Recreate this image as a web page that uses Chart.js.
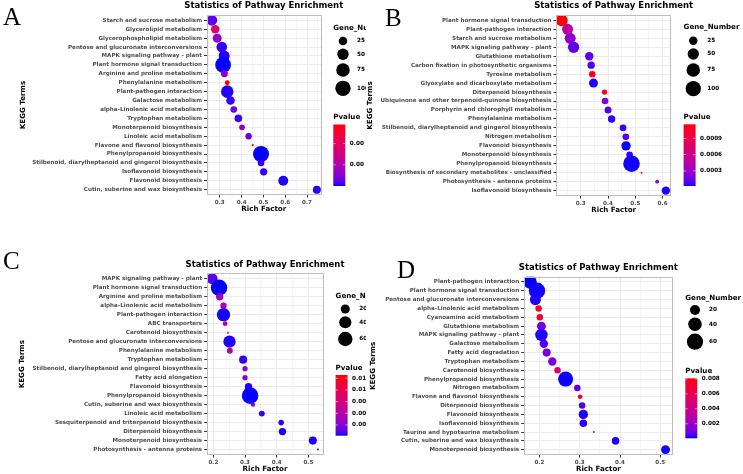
<!DOCTYPE html>
<html><head><meta charset="utf-8">
<script src="https://cdn.jsdelivr.net/npm/chart.js@4.4.1/dist/chart.umd.min.js"></script>
<style>
html,body{margin:0;padding:0;background:#fff;}
body{width:743px;height:474px;position:relative;overflow:hidden;}
canvas{position:absolute;}
.letter{position:absolute;font-family:"Liberation Serif","DejaVu Serif",serif;font-size:25px;line-height:25px;color:#000;}
</style></head><body>
<canvas id="cA" width="366" height="235" style="left:0;top:0"></canvas>
<canvas id="cB" width="379" height="235" style="left:364px;top:0"></canvas>
<canvas id="cC" width="366" height="239" style="left:0;top:235px"></canvas>
<canvas id="cD" width="379" height="239" style="left:364px;top:235px"></canvas>
<div class="letter" style="left:3px;top:4px">A</div>
<div class="letter" style="left:385px;top:5px">B</div>
<div class="letter" style="left:3px;top:248px">C</div>
<div class="letter" style="left:397px;top:257px">D</div>
<script>
// ---------------- DATA ----------------
const termsA = ["Starch and sucrose metabolism","Glycerolipid metabolism","Glycerophospholipid metabolism","Pentose and glucuronate interconversions","MAPK signaling pathway - plant","Plant hormone signal transduction","Arginine and proline metabolism","Phenylalanine metabolism","Plant-pathogen interaction","Galactose metabolism","alpha-Linolenic acid metabolism","Tryptophan metabolism","Monoterpenoid biosynthesis","Linoleic acid metabolism","Flavone and flavonol biosynthesis","Phenylpropanoid biosynthesis","Stilbenoid, diarylheptanoid and gingerol biosynthesis","Isoflavonoid biosynthesis","Flavonoid biosynthesis","Cutin, suberine and wax biosynthesis"];
const richA = [0.264,0.279,0.288,0.309,0.320,0.315,0.321,0.334,0.334,0.349,0.364,0.385,0.402,0.432,0.451,0.489,0.489,0.501,0.591,0.745];
const genesA = [42,24,28,42,46,106,15,6,63,25,13,19,9,12,2,110,13,17,36,21];
const pvalA = [0.00023,0.00189,0.00064,0.00006,0.00004,0.000001,0.00058,0.0029,0.00003,0.00009,0.00038,0.00012,0.00067,0.00029,0.00276,0.000002,0.00006,0.00006,0.00003,0.00005];
const xTicksA = [0.3,0.4,0.5,0.6,0.7];
const sizeBreaksA = [25,50,75,100];
const pBreaksA = [0.001,0.002];
const pLabelsA = ["0.00","0.00"];

const termsB = ["Plant hormone signal transduction","Plant-pathogen interaction","Starch and sucrose metabolism","MAPK signaling pathway - plant","Glutathione metabolism","Carbon fixation in photosynthetic organisms","Tyrosine metabolism","Glyoxylate and dicarboxylate metabolism","Diterpenoid biosynthesis","Ubiquinone and other terpenoid-quinone biosynthesis","Porphyrin and chlorophyll metabolism","Phenylalanine metabolism","Stilbenoid, diarylheptanoid and gingerol biosynthesis","Nitrogen metabolism","Flavonoid biosynthesis","Monoterpenoid biosynthesis","Phenylpropanoid biosynthesis","Biosynthesis of secondary metabolites - unclassified","Photosynthesis - antenna proteins","Isoflavonoid biosynthesis"];
const richB = [0.230,0.2515,0.261,0.2735,0.331,0.338,0.342,0.3465,0.387,0.389,0.400,0.413,0.455,0.465,0.466,0.479,0.486,0.523,0.580,0.612];
const genesB = [57,47,47,50,25,18,13,29,8,14,16,18,14,14,32,14,120,2,4,25];
const pvalB = [0.00116,0.00050,0.00025,0.00012,0.00010,0.00010,0.00113,0.00003,0.00110,0.00021,0.00009,0.00004,0.00005,0.00009,0.00002,0.00005,0.000025,0.00082,0.00025,0.00003];
const xTicksB = [0.3,0.4,0.5,0.6];
const sizeBreaksB = [25,50,75,100];
const pBreaksB = [0.0003,0.0006,0.0009];
const pLabelsB = ["0.0003","0.0006","0.0009"];

const termsC = ["MAPK signaling pathway - plant","Plant hormone signal transduction","Arginine and proline metabolism","alpha-Linolenic acid metabolism","Plant-pathogen interaction","ABC transporters","Carotenoid biosynthesis","Pentose and glucuronate interconversions","Phenylalanine metabolism","Tryptophan metabolism","Stilbenoid, diarylheptanoid and gingerol biosynthesis","Fatty acid elongation","Flavonoid biosynthesis","Phenylpropanoid biosynthesis","Cutin, suberine and wax biosynthesis","Linoleic acid metabolism","Sesquiterpenoid and triterpenoid biosynthesis","Diterpenoid biosynthesis","Monoterpenoid biosynthesis","Photosynthesis - antenna proteins"];
const richC = [0.196,0.218,0.220,0.232,0.232,0.237,0.246,0.251,0.252,0.294,0.300,0.300,0.311,0.316,0.325,0.353,0.414,0.418,0.514,0.530];
const genesC = [32,80,12,8,50,4,1,42,7,15,5,5,12,82,3,7,6,12,15,1];
const pvalC = [0.0012,0.0002,0.0038,0.0045,0.00027,0.0054,0.0132,0.00033,0.0054,0.00046,0.0031,0.0028,0.00033,0.00022,0.0023,0.00046,0.00046,0.00033,0.00033,0.00085];
const xTicksC = [0.2,0.3,0.4,0.5];
const sizeBreaksC = [20,40,60];
const pBreaksC = [0.0025,0.005,0.0075,0.01,0.0125];
const pLabelsC = ["0.0025","0.0050","0.0075","0.0100","0.0125"];

const termsD = ["Plant-pathogen interaction","Plant hormone signal transduction","Pentose and glucuronate interconversions","alpha-Linolenic acid metabolism","Cyanoamino acid metabolism","Glutathione metabolism","MAPK signaling pathway - plant","Galactose metabolism","Fatty acid degradation","Tryptophan metabolism","Carotenoid biosynthesis","Phenylpropanoid biosynthesis","Nitrogen metabolism","Flavone and flavonol biosynthesis","Diterpenoid biosynthesis","Flavonoid biosynthesis","Isoflavonoid biosynthesis","Taurine and hypotaurine metabolism","Cutin, suberine and wax biosynthesis","Monoterpenoid biosynthesis"];
const richD = [0.177,0.194,0.190,0.198,0.201,0.205,0.205,0.211,0.218,0.232,0.245,0.265,0.294,0.301,0.306,0.309,0.309,0.335,0.389,0.513];
const genesD = [39,62,25,7,7,15,33,13,12,13,7,51,7,3,7,17,10,1,10,15];
const pvalD = [0.00005,0.00009,0.00013,0.0074,0.0069,0.0011,0.00013,0.00053,0.00125,0.0011,0.0053,0.00007,0.00077,0.0074,0.00053,0.00013,0.00017,0.00808,0.00013,0.00009];
const xTicksD = [0.2,0.3,0.4,0.5];
const sizeBreaksD = [20,40,60];
const pBreaksD = [0.002,0.004,0.006,0.008];
const pLabelsD = ["0.002","0.004","0.006","0.008"];

// ---------------- COLOUR (CIELAB blue -> red, like ggplot gradient) ----------------
function s2l(c){c/=255;return c<=0.04045?c/12.92:Math.pow((c+0.055)/1.055,2.4);}
function l2s(c){c=c<=0.0031308?12.92*c:1.055*Math.pow(Math.max(c,0),1/2.4)-0.055;return Math.round(Math.max(0,Math.min(1,c))*255);}
function toLab(rgb){const r=s2l(rgb[0]),g=s2l(rgb[1]),b=s2l(rgb[2]);
  const X=(0.4124564*r+0.3575761*g+0.1804375*b)/0.95047,Y=0.2126729*r+0.7151522*g+0.0721750*b,Z=(0.0193339*r+0.1191920*g+0.9503041*b)/1.08883;
  const f=t=>t>0.008856?Math.cbrt(t):7.787*t+16/116;const fx=f(X),fy=f(Y),fz=f(Z);
  return [116*fy-16,500*(fx-fy),200*(fy-fz)];}
function fromLab(L,a,b){const fy=(L+16)/116,fx=fy+a/500,fz=fy-b/200;
  const fi=t=>t*t*t>0.008856?t*t*t:(t-16/116)/7.787;
  const X=fi(fx)*0.95047,Y=fi(fy),Z=fi(fz)*1.08883;
  const r=3.2404542*X-1.5371385*Y-0.4985314*Z,g=-0.9692660*X+1.8760108*Y+0.0415560*Z,bb=0.0556434*X-0.2040259*Y+1.0572252*Z;
  return 'rgb('+l2s(r)+','+l2s(g)+','+l2s(bb)+')';}
const LAB_LO=toLab([0,0,255]), LAB_HI=toLab([255,0,0]);
function ramp(t){t=Math.max(0,Math.min(1,t));return fromLab(LAB_LO[0]+(LAB_HI[0]-LAB_LO[0])*t,LAB_LO[1]+(LAB_HI[1]-LAB_LO[1])*t,LAB_LO[2]+(LAB_HI[2]-LAB_LO[2])*t);}

const FONT='"DejaVu Sans", sans-serif';
const near=(a,b)=>Math.abs(a-b)<1e-9;

function makePanel(id,cfg){
  const {terms,rich,genes,pvals,xTicks,xMin,xMax,sizeBreaks,pBreaks,pLabels,L}=cfg;
  const nMin=Math.min(...genes),nMax=Math.max(...genes);
  const pMin=Math.min(...pvals),pMax=Math.max(...pvals);
  const rad=n=>L.rMin+(L.rMax-L.rMin)*Math.sqrt(Math.max(0,(n-nMin)/(nMax-nMin)));
  const col=p=>ramp((p-pMin)/(pMax-pMin));
  const data=terms.map((t,i)=>({x:rich[i],y:i,r:rad(genes[i]),p:pvals[i]}));
  const canvas=document.getElementById(id);
  const W=canvas.width,H=canvas.height;
  const minor=[];
  xTicks.forEach(v=>[v-0.05,v+0.05].forEach(m=>{
    if(m>xMin&&m<xMax&&!minor.some(q=>near(q,m))&&!xTicks.some(q=>near(q,m)))minor.push(m);}));
  const allX=xTicks.concat(minor).sort((a,b)=>a-b);
  const isMajor=v=>xTicks.some(q=>near(q,v));

  const decor={id:'decor',
    afterDatasetsDraw(chart){
      const c=chart.ctx,ca=chart.chartArea;
      c.save();c.strokeStyle='#bdbdbd';c.lineWidth=1;
      c.strokeRect(Math.round(ca.left)+0.5,Math.round(ca.top)+0.5,Math.round(ca.right-ca.left)-1,Math.round(ca.bottom-ca.top)-1);
      c.restore();
    },
    afterDraw(chart){
      const c=chart.ctx,ca=chart.chartArea;
      c.save();
      c.fillStyle='#000';c.textBaseline='middle';
      // title
      c.font='bold 8.5px '+FONT;c.textAlign='center';
      c.fillText('Statistics of Pathway Enrichment',(ca.left+ca.right)/2,ca.top-9);
      // axis titles
      c.font='bold 7.1px '+FONT;
      c.fillText('Rich Factor',(ca.left+ca.right)/2,ca.bottom+14.3);
      c.save();c.translate(L.keggX,(ca.top+ca.bottom)/2);c.rotate(-Math.PI/2);
      c.fillText('KEGG Terms',0,0);c.restore();
      // size legend
      const lx=ca.right+12.3;
      c.textAlign='left';
      c.fillText('Gene_Number',lx,L.sizeTitleY);
      sizeBreaks.forEach((n,i)=>{
        c.beginPath();c.arc(ca.right+22,L.sizeY[i],rad(n),0,Math.PI*2);c.fillStyle='#000';c.fill();
        c.font='bold 5.7px '+FONT;c.fillText(String(n),ca.right+36,L.sizeY[i]);
      });
      // colour bar
      c.font='bold 7.1px '+FONT;
      c.fillText('Pvalue',lx,L.pTitleY);
      const bw=12,bh=L.barBottom-L.barTop;
      const g=c.createLinearGradient(0,L.barBottom,0,L.barTop);
      for(let k=0;k<=24;k++)g.addColorStop(k/24,ramp(k/24));
      c.fillStyle=g;c.fillRect(lx,L.barTop,bw,bh);
      c.font='bold 5.7px '+FONT;
      pBreaks.forEach((b,i)=>{
        const y=L.barBottom-(b-pMin)/(pMax-pMin)*bh;
        c.strokeStyle='rgba(255,255,255,0.9)';c.lineWidth=0.6;
        c.beginPath();c.moveTo(lx,y);c.lineTo(lx+2.4,y);c.moveTo(lx+bw-2.4,y);c.lineTo(lx+bw,y);c.stroke();
        c.fillStyle='#000';c.fillText(pLabels[i],lx+bw+4.5,y);
      });
      c.restore();
    }};

  new Chart(canvas,{
    type:'bubble',
    data:{datasets:[{data,backgroundColor:ctx=>col(ctx.raw.p),borderWidth:0,hoverBorderWidth:0}]},
    options:{
      responsive:false,animation:false,events:[],
      layout:{padding:{left:0,top:L.top,right:W-L.right,bottom:0}},
      plugins:{legend:{display:false},tooltip:{enabled:false},title:{display:false}},
      scales:{
        x:{type:'linear',min:xMin,max:xMax,
          afterBuildTicks:s=>{s.ticks=allX.map(v=>({value:v}));},
          afterFit:s=>{s.height=H-L.bottom;},
          ticks:{autoSkip:false,maxRotation:0,minRotation:0,padding:1.5,color:'#4d4d4d',
            font:{family:FONT,weight:'bold',size:5.6},
            callback:v=>isMajor(v)?v.toFixed(1):''},
          grid:{color:c=>isMajor(c.tick.value)?'#ebebeb':'#f4f4f4',lineWidth:1,tickLength:2.5,
            tickColor:c=>isMajor(c.tick.value)?'#333333':'rgba(0,0,0,0)'},
          border:{display:false}},
        y:{type:'linear',reverse:true,min:-0.6,max:terms.length-0.4,
          afterBuildTicks:s=>{s.ticks=terms.map((t,i)=>({value:i}));},
          afterFit:s=>{s.width=L.left;},
          ticks:{autoSkip:false,padding:2,color:'#4d4d4d',font:{family:FONT,weight:'bold',size:5.6},
            callback:v=>terms[v]},
          grid:{color:'#ebebeb',lineWidth:1,tickLength:2.5,tickColor:'#333333'},
          border:{display:false}}
      }
    },
    plugins:[decor]
  });
}

makePanel('cA',{terms:termsA,rich:richA,genes:genesA,pvals:pvalA,xTicks:xTicksA,xMin:0.239,xMax:0.764,
  sizeBreaks:sizeBreaksA,pBreaks:pBreaksA,pLabels:pLabelsA,
  L:{left:206.5,top:15,right:321,bottom:195,rMin:1.1,rMax:8.0,keggX:23,sizeTitleY:28,sizeY:[41,54.3,70,88.3],pTitleY:117,barTop:124.5,barBottom:186}});
makePanel('cB',{terms:termsB,rich:richB,genes:genesB,pvals:pvalB,xTicks:xTicksB,xMin:0.209,xMax:0.632,
  sizeBreaks:sizeBreaksB,pBreaks:pBreaksB,pLabels:pLabelsB,
  L:{left:192,top:15,right:307.3,bottom:196,rMin:1.0,rMax:8.3,keggX:6,sizeTitleY:27.5,sizeY:[40.7,54,70,88.7],pTitleY:117.3,barTop:124.3,barBottom:186}});
makePanel('cC',{terms:termsC,rich:richC,genes:genesC,pvals:pvalC,xTicks:xTicksC,xMin:0.179,xMax:0.547,
  sizeBreaks:sizeBreaksC,pBreaks:pBreaksC,pLabels:pLabelsC,
  L:{left:206.7,top:38.3,right:323.3,bottom:220,rMin:1.0,rMax:8.3,keggX:22,sizeTitleY:60.7,sizeY:[74,87.3,104],pTitleY:132.7,barTop:140,barBottom:200.7}});
makePanel('cD',{terms:termsD,rich:richD,genes:genesD,pvals:pvalD,xTicks:xTicksD,xMin:0.161,xMax:0.5315,
  sizeBreaks:sizeBreaksD,pBreaks:pBreaksD,pLabels:pLabelsD,
  L:{left:159.7,top:41.7,right:309,bottom:220,rMin:1.0,rMax:8.2,keggX:9,sizeTitleY:62.7,sizeY:[75,89.3,106.7],pTitleY:135.7,barTop:143.3,barBottom:203.3}});
</script>
</body></html>
